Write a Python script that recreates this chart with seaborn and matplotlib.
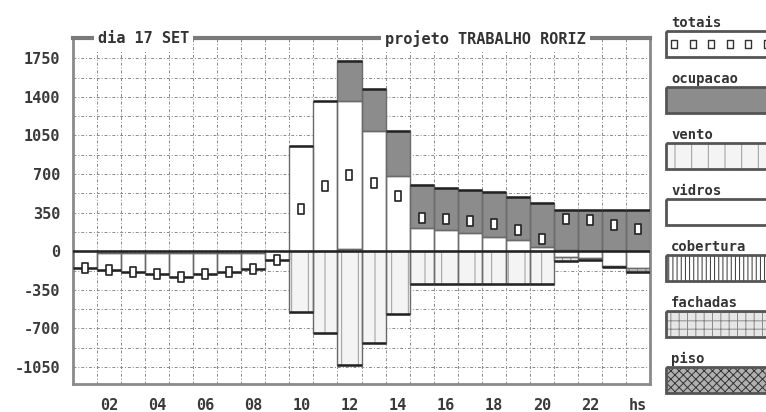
import numpy as np
import seaborn as sns
import matplotlib.pyplot as plt
from matplotlib.patches import Rectangle
from matplotlib.path import Path
from matplotlib.markers import MarkerStyle

# hourly loads (hours 1..24)
hours = np.arange(1, 25)
xticks = [2, 4, 6, 8, 10, 12, 14, 16, 18, 20, 22, 24]
xlabels = ['02', '04', '06', '08', '10', '12', '14', '16', '18', '20', '22', 'hs']
yticks = [-1050, -700, -350, 0, 350, 700, 1050, 1400, 1750]

ocupacao = [0, 0, 0, 0, 0, 0, 0, 0, 0, 0, 0,
            361, 385, 407, 391, 385, 397, 406, 395, 392, 358, 373, 373, 373]
vento = [0, 0, 0, 0, 0, 0, 0, 0, 0,
         -548, -744, -1030, -834, -572, -298, -298, -298, -298, -298, -298,
         0, 0, 0, 0]
vidros = [-148, -154, -172, -193, -214, -193, -172, -142, -79,
          952, 1364, 1339, 1087, 680, 214, 190, 163, 133, 99, 42,
          -55, -65, -130, -150]
cobertura = [0, -15, -15, -15, -15, -15, -15, -15, 0,
             0, 0, 25, 0, 0, 0, 0, 0, 0, 0, 0,
             15, 0, 0, 0]
fachadas = [0] * 20 + [-30, -10, -10, -35]
piso = [0] * 24
totais = [-148, -169, -187, -208, -229, -208, -187, -157, -79,
          380, 596, 696, 620, 500, 304, 289, 274, 244, 190, 115,
          295, 283, 238, 199]

sns.set_style('white')
plt.rcParams['font.family'] = ['DejaVu Sans Mono', 'DejaVu Sans']
plt.rcParams['hatch.linewidth'] = 0.7

# name -> (face, hatch, hatch colour)
styles = {
    'ocupacao': ('#8c8c8c', None, '#8c8c8c'),
    'vento': ('#f4f4f4', '|', '#9a9a9a'),
    'vidros': ('white', None, 'white'),
    'cobertura': ('white', '||||', '#333333'),
    'fachadas': ('#e6e6e6', '++', '#8a8a8a'),
    'piso': ('#b0b0b0', 'xxxx', '#333333'),
}
layers = [('cobertura', cobertura), ('vidros', vidros), ('vento', vento),
          ('ocupacao', ocupacao), ('fachadas', fachadas), ('piso', piso)]

fig = plt.figure(figsize=(7.66, 4.12), dpi=100)
ax = fig.add_axes([73 / 766, 27.7 / 412, 577 / 766, 346 / 412])

pos = np.zeros(24)
neg = np.zeros(24)
for name, vals in layers:
    v = np.array(vals, dtype=float)
    base = np.where(v >= 0, pos, neg)
    face, hatch, hc = styles[name]
    m = v != 0
    ax.bar(hours[m], v[m], width=1, bottom=base[m], color=face, hatch=hatch,
           edgecolor=hc, linewidth=0, zorder=2)
    ax.bar(hours[m], v[m], width=1, bottom=base[m], fill=False,
           edgecolor='#6a6a6a', linewidth=1, zorder=3)
    pos += np.clip(v, 0, None)
    neg += np.clip(v, None, 0)

# heavy line at the outer end of each stack
mp = pos > 0
ax.hlines(pos[mp], hours[mp] - 0.5, hours[mp] + 0.5, color='#222222', lw=1.8, zorder=4)
mn = neg < 0
ax.hlines(neg[mn], hours[mn] - 0.5, hours[mn] + 0.5, color='#222222', lw=1.8, zorder=4)
ax.axhline(0, color='#222222', lw=1.8, zorder=4)

box = MarkerStyle(Path([(-0.65, -1), (0.65, -1), (0.65, 1), (-0.65, 1), (-0.65, -1)],
                       [Path.MOVETO, Path.LINETO, Path.LINETO, Path.LINETO, Path.CLOSEPOLY]))
sns.scatterplot(x=hours, y=totais, marker=box, s=50, color='white',
                edgecolor='#222222', linewidth=1.2, zorder=6, ax=ax, legend=False)

ax.set_xlim(0.5, 24.5)
ax.set_ylim(-1206, 1931)
ax.set_xticks(xticks)
ax.set_xticklabels(xlabels)
ax.set_xticks(np.arange(1.5, 24, 1), minor=True)
ax.set_yticks(yticks)
ax.set_yticklabels([str(t) for t in yticks])
ax.set_yticks(np.arange(-1050, 1800, 175), minor=True)
ax.set_axisbelow(True)
gl = dict(color='#8a8a8a', lw=0.7, linestyle=(0, (3, 2, 1, 2)))
ax.grid(which='both', axis='y', **gl)
ax.grid(which='minor', axis='x', **gl)

ax.tick_params(axis='x', which='major', length=0, pad=10, labelsize=11, labelcolor='#3a3a3a')
ax.tick_params(axis='x', which='minor', length=3, direction='in', color='#777777')
ax.tick_params(axis='y', which='both', length=3, direction='out', color='#777777',
               pad=6, labelsize=11, labelcolor='#3a3a3a')
for lab in ax.get_xticklabels() + ax.get_yticklabels():
    lab.set_fontweight('bold')
for side in ['left', 'right', 'bottom']:
    ax.spines[side].set_color('#8a8a8a')
    ax.spines[side].set_linewidth(2)
ax.spines['top'].set_color('#7a7a7a')
ax.spines['top'].set_linewidth(3)
ax.set_xlabel('')
ax.set_ylabel('')

tkw = dict(transform=ax.transAxes, va='center', ha='left', fontsize=11, fontweight='bold',
           color='#333333', zorder=10, clip_on=False,
           bbox=dict(facecolor='white', edgecolor='none', pad=3))
ax.text(0.043, 1.0, 'dia 17 SET', **tkw)
ax.text(0.541, 1.0, 'projeto TRABALHO RORIZ', **tkw)

# legend column at the right edge
lg = fig.add_axes([665 / 766, 0, 120 / 766, 1])
lg.set_xlim(0, 120)
lg.set_ylim(412, 0)
lg.axis('off')
names = ['totais', 'ocupacao', 'vento', 'vidros', 'cobertura', 'fachadas', 'piso']
for i, name in enumerate(names):
    top = 31 + 56 * i
    if name == 'totais':
        face, hatch, hc = 'white', None, 'white'
    else:
        face, hatch, hc = styles[name]
    lg.add_patch(Rectangle((1, top), 140, 26, facecolor=face, hatch=hatch,
                           edgecolor=hc, linewidth=0))
    lg.add_patch(Rectangle((1, top), 140, 26, fill=False, edgecolor='#555555', linewidth=2))
    lg.text(6, top - 1, name, va='bottom', ha='left', fontsize=10, fontweight='bold',
            color='#333333')
    if name == 'totais':
        lg.scatter([9 + 18.5 * k for k in range(6)], [top + 13] * 6, marker=box, s=34,
                   color='white', edgecolor='#333333', linewidth=1)

fig.savefig('out.png', dpi=100)
